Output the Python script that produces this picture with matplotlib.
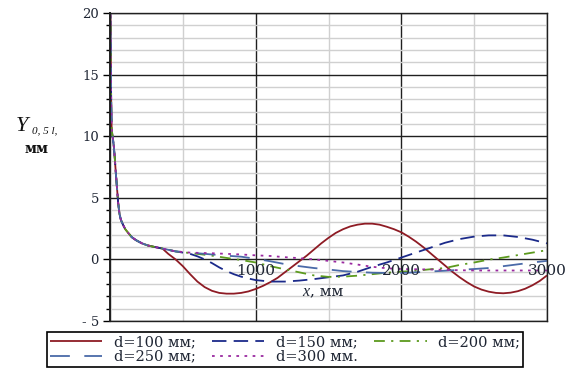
import numpy as np
import matplotlib
matplotlib.use("Agg")
import matplotlib.pyplot as plt
from matplotlib.ticker import MultipleLocator

plt.rcParams["font.family"] = ["DejaVu Serif"]

# common steep part near x = 0 (all curves coincide here)
x_head = [2, 5, 8, 11, 15, 20, 26, 33, 40, 48, 56, 65, 75, 90, 105, 125, 150, 180, 220, 260, 310, 360]
y_head = [22.0, 17.0, 13.0, 10.8, 10.2, 9.8, 9.2, 8.2, 7.0, 5.8, 4.6, 3.7, 3.2, 2.8, 2.45, 2.15, 1.8, 1.55, 1.3, 1.13, 1.0, 0.88]

x_d100 = [400, 450, 500, 550, 600, 650, 700, 750, 800, 850, 900, 950, 1000, 1050, 1100,
          1150, 1200, 1250, 1300, 1350, 1400, 1450, 1500, 1550, 1600, 1650, 1700, 1750,
          1800, 1850, 1900, 1950, 2000, 2050, 2100, 2150, 2200, 2250, 2300, 2350, 2400,
          2450, 2500, 2550, 2600, 2650, 2700, 2750, 2800, 2850, 2900, 2950, 3000]
y_d100 = [0.45, 0.0, -0.55, -1.2, -1.8, -2.25, -2.55, -2.72, -2.78, -2.78, -2.72, -2.6, -2.4, -2.15, -1.85,
          -1.5, -1.05, -0.6, -0.15, 0.3, 0.8, 1.3, 1.75, 2.15, 2.45, 2.68, 2.82, 2.9,
          2.9, 2.82, 2.65, 2.45, 2.2, 1.85, 1.45, 1.0, 0.5, 0.0, -0.5, -1.0, -1.45,
          -1.85, -2.2, -2.45, -2.62, -2.72, -2.75, -2.7, -2.58, -2.38, -2.1, -1.75, -1.3]

x_d150 = [450, 550, 600, 650, 700, 750, 800, 850, 900, 950, 1000, 1100, 1200, 1300, 1400,
          1500, 1600, 1700, 1800, 1900, 2000, 2100, 2200, 2300, 2400, 2500, 2600, 2700,
          2800, 2900, 3000]
y_d150 = [0.65, 0.45, 0.25, 0.0, -0.3, -0.65, -0.95, -1.2, -1.4, -1.55, -1.68, -1.8, -1.8, -1.72, -1.6,
          -1.45, -1.3, -1.0, -0.6, -0.25, 0.15, 0.55, 0.95, 1.35, 1.65, 1.85, 1.95, 1.95,
          1.82, 1.6, 1.3]

x_d200 = [450, 500, 600, 700, 800, 900, 1000, 1100, 1200, 1300, 1400, 1500, 1600, 1700,
          1800, 1900, 2000, 2100, 2200, 2300, 2400, 2500, 2600, 2700, 2800, 2900, 3000]
y_d200 = [0.65, 0.58, 0.45, 0.3, 0.12, -0.05, -0.25, -0.55, -0.8, -1.05, -1.3, -1.42, -1.4, -1.32,
          -1.2, -1.08, -1.0, -0.92, -0.8, -0.7, -0.45, -0.25, -0.02, 0.15, 0.35, 0.55, 0.75]

x_d250 = [450, 550, 650, 800, 900, 1000, 1100, 1200, 1300, 1400, 1500, 1600, 1700, 1800,
          1900, 2000, 2100, 2200, 2300, 2400, 2500, 2600, 2700, 2800, 2900, 3000]
y_d250 = [0.65, 0.55, 0.45, 0.3, 0.22, 0.05, -0.15, -0.38, -0.55, -0.7, -0.82, -0.95, -1.02, -1.08,
          -1.1, -1.1, -1.05, -0.98, -0.92, -0.85, -0.78, -0.7, -0.55, -0.4, -0.25, -0.12]

x_d300 = [450, 550, 700, 800, 900, 1000, 1100, 1200, 1300, 1400, 1500, 1600, 1700, 1800,
          1900, 2000, 2100, 2200, 2300, 2400, 2500, 2600, 2700, 2800, 2900, 3000]
y_d300 = [0.65, 0.55, 0.5, 0.45, 0.4, 0.33, 0.28, 0.18, 0.1, 0.0, -0.12, -0.25, -0.42, -0.6,
          -0.72, -0.78, -0.8, -0.82, -0.85, -0.88, -0.9, -0.9, -0.9, -0.9, -0.9, -0.9]

labels = ["d=100 мм;", "d=150 мм;", "d=200 мм;", "d=250 мм;", "d=300 мм."]
x_ticks = [1000, 2000, 3000]
y_ticks = [-5, 0, 5, 10, 15, 20]

txt = "#1e2533"

fig = plt.figure(figsize=(5.66, 3.69), dpi=100)
ax = fig.add_axes([110 / 566, 1 - 321 / 369, 437 / 566, 308 / 369])

ax.set_xlim(0, 3000)
ax.set_ylim(-5, 20)

ax.xaxis.set_major_locator(MultipleLocator(1000))
ax.xaxis.set_minor_locator(MultipleLocator(500))
ax.set_yticks(y_ticks)
ax.yaxis.set_minor_locator(MultipleLocator(1))

ax.grid(which="minor", color="#d0d0d0", lw=1.0)
ax.grid(which="major", color="#202020", lw=1.0)
ax.set_axisbelow(True)
for sp in ax.spines.values():
    sp.set_color("#202020")
    sp.set_linewidth(1.0)
ax.spines["left"].set_linewidth(1.4)

ax.tick_params(axis="x", which="both", length=0, labelbottom=False)
ax.tick_params(axis="y", which="major", length=5, width=1, color="black",
               labelsize=9.5, labelcolor=txt, pad=3)
ax.tick_params(axis="y", which="minor", length=3, width=1, color="black")
ax.set_yticklabels([str(v).replace("-", "- ") for v in y_ticks])

def series(xs, ys):
    return np.concatenate([x_head, xs]), np.concatenate([y_head, ys])

lw = 1.3
x, y = series(x_d100, y_d100)
l100, = ax.plot(x, y, color="#8e1b24", lw=lw, solid_capstyle="butt")
x, y = series(x_d150, y_d150)
l150, = ax.plot(x, y, color="#1b2a8a", lw=lw, dashes=(8, 4))
x, y = series(x_d200, y_d200)
l200, = ax.plot(x, y, color="#5c9a1e", lw=lw, dashes=(6, 3.5, 1.2, 3.5))
x, y = series(x_d250, y_d250)
l250, = ax.plot(x, y, color="#4a6aa8", lw=lw, dashes=(11, 8))
x, y = series(x_d300, y_d300)
l300, = ax.plot(x, y, color="#9a2aa0", lw=lw, dashes=(1.5, 3))

for xt in x_ticks:
    ax.annotate(str(xt), (xt, 0), xytext=(0, -3), textcoords="offset points",
                ha="center", va="top", fontsize=11, color=txt)

ax.text(0.457, 0.095, "x", transform=ax.transAxes, ha="right", va="center",
        fontsize=11.5, style="italic", color=txt, family="Liberation Serif")
ax.text(0.457, 0.095, ", мм", transform=ax.transAxes, ha="left", va="center",
        fontsize=11, color=txt)

fig.text(16 / 566, 1 - 126 / 369, "Y", fontsize=16, style="italic", ha="left",
         va="center", color="#111111", family="Liberation Serif")
fig.text(32 / 566, 1 - 131 / 369, "0, 5 l,", fontsize=8, style="italic", ha="left",
         va="center", color="#111111", family="Liberation Serif")
fig.text(37 / 566, 1 - 149 / 369, "мм", fontsize=10, weight="bold", ha="center",
         va="center", color="#111111")

handles = [l100, l250, l150, l300, l200]
order = [labels[0], labels[3], labels[1], labels[4], labels[2]]
leg = fig.legend(handles, order, ncol=3, loc="upper center",
                 bbox_to_anchor=(285 / 566, 1 - 332 / 369), fontsize=10.5,
                 frameon=True, fancybox=False, edgecolor="black", framealpha=1,
                 handlelength=3.6, handletextpad=0.8, columnspacing=1.1,
                 labelspacing=0.05, borderpad=0.2, borderaxespad=0)
for t in leg.get_texts():
    t.set_color(txt)
leg.get_frame().set_linewidth(1.2)

fig.savefig("out.png", dpi=100)
